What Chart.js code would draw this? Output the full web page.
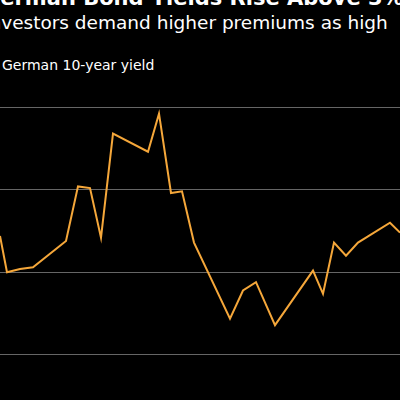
<!DOCTYPE html>
<html>
<head>
<meta charset="utf-8">
<script src="https://cdn.jsdelivr.net/npm/chart.js@4"></script>
<style>
  html, body { margin: 0; padding: 0; background: #000; width: 400px; height: 400px; overflow: hidden; position: relative; font-family: "DejaVu Sans", sans-serif; }
  .t { position: absolute; white-space: nowrap; color: #fff; }
  #title { top: -14px; left: -17px; font-size: 21px; font-weight: bold; }
  #sub { top: 12px; left: -16px; font-size: 18.5px; }
  #legend { top: 57px; left: -14px; font-size: 14px; }
  #legend span { display: inline-block; width: 10px; height: 10px; background: #f5a73a; margin-right: 6px; }
  #wrap { position: absolute; top: 80px; left: 0; width: 400px; height: 320px; }
</style>
</head>
<body>
<div class="t" id="title">German Bond Yields Rise Above 3%</div>
<div class="t" id="sub">Investors demand higher premiums as high</div>
<div class="t" id="legend"><span></span>German 10-year yield</div>
<div id="wrap"><canvas id="c"></canvas></div>
<script>
const xs = [0, 7, 20, 33, 66, 78, 90, 101, 113, 148, 159, 171, 182, 194, 230, 243, 256, 275, 313, 323, 334, 346, 358, 390, 400];
const yields = [2.22, 2.0, 2.02, 2.03, 2.19, 2.52, 2.51, 2.21, 2.84, 2.73, 2.96, 2.48, 2.49, 2.18, 1.72, 1.89, 1.94, 1.68, 2.01, 1.87, 2.18, 2.10, 2.18, 2.30, 2.24];
const gridTicks = [1.5, 2, 2.5, 3];

new Chart(document.getElementById('c'), {
    type: 'line',
    data: {
        datasets: [{
            label: 'German 10-year yield',
            data: xs.map((x, i) => ({ x: x, y: yields[i] })),
            borderColor: '#f5a73a',
            borderWidth: 2,
            pointRadius: 0,
            tension: 0
        }]
    },
    options: {
        animation: false,
        responsive: true,
        maintainAspectRatio: false,
        layout: { padding: 0 },
        plugins: { legend: { display: false }, tooltip: { enabled: false } },
        scales: {
            x: { type: 'linear', min: 0, max: 400, display: false },
            y: {
                min: 1.227, max: 3.164,
                afterBuildTicks: axis => { axis.ticks = gridTicks.map(v => ({ value: v })); },
                ticks: { display: false },
                border: { display: false },
                grid: { color: '#666', lineWidth: 1, drawTicks: false }
            }
        }
    }
});
</script>
</body>
</html>
